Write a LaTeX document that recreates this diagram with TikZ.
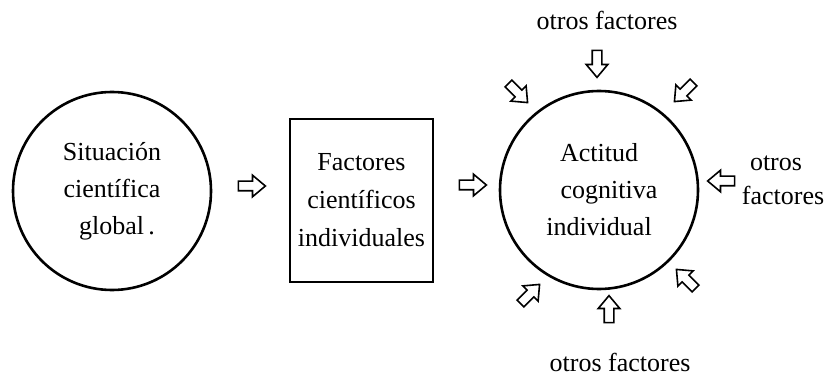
\documentclass[tikz,border=0pt]{standalone}
\usepackage{fontspec}
\setmainfont{Liberation Serif}
\usetikzlibrary{shapes.geometric, shapes.arrows}
\tikzstyle{bigcircle} = [circle, minimum size=198pt, inner sep=0pt, draw=black, line width=2.6pt, align=center, font=\fontsize{26}{37}\selectfont]
\tikzstyle{factbox} = [rectangle, minimum width=143pt, minimum height=163pt, inner sep=0pt, draw=black, line width=2.6pt, align=center, font=\fontsize{26}{38}\selectfont]
\tikzstyle{hollow} = [single arrow, draw=black, line width=1.6pt, inner sep=4pt, minimum height=27pt, minimum width=21pt, single arrow head extend=6pt, single arrow tip angle=80]
\tikzstyle{lab} = [align=center, inner sep=0pt, font=\fontsize{26}{34}\selectfont]

\begin{document}
\begin{tikzpicture}[x=1pt, y=1pt, node distance=120pt]
\useasboundingbox[fill=white] (0,0) rectangle (826,375);
\node (sit) [bigcircle] at (112,184) {Situación\\científica\\\hspace*{10pt}global\,.};
\node (a1) [hollow, right of=sit, xshift=17pt, yshift=5pt] {};
\node (fac) [factbox, right of=a1, xshift=-7.5pt, yshift=-14.5pt] {Factores\\científicos\\individuales};
\node (a2) [hollow, right of=fac, xshift=-11.5pt, yshift=15.5pt] {};
\node (act) [bigcircle, right of=a2, xshift=9pt, yshift=-5pt] {Actitud\\\hspace*{20pt}cognitiva\\individual};

% flechas alrededor
\node (n) [hollow, above of=act, xshift=-2pt, yshift=9pt, rotate=-90] {};
\node (nw) [hollow, above of=act, xshift=-83pt, yshift=-21pt, rotate=-45] {};
\node (ne) [hollow, above of=act, xshift=87pt, yshift=-20pt, rotate=-135] {};
\node (e) [hollow, right of=act, xshift=5pt, yshift=9pt, rotate=180] {};
\node (sw) [hollow, below of=act, xshift=-71pt, yshift=14pt, rotate=45] {};
\node (s) [hollow, below of=act, xshift=10pt, yshift=-2pt, rotate=90] {};
\node (se) [hollow, below of=act, xshift=89pt, yshift=29pt, rotate=135] {};

\node (nlab) [lab, above of=act, xshift=8pt, yshift=50pt] {otros factores};
\node (elab) [lab, right of=act, xshift=57pt, yshift=10pt] {otros\\\hspace*{14pt}factores};
\node (slab) [lab, below of=act, xshift=21pt, yshift=-52pt] {otros factores};
\end{tikzpicture}
\end{document}
